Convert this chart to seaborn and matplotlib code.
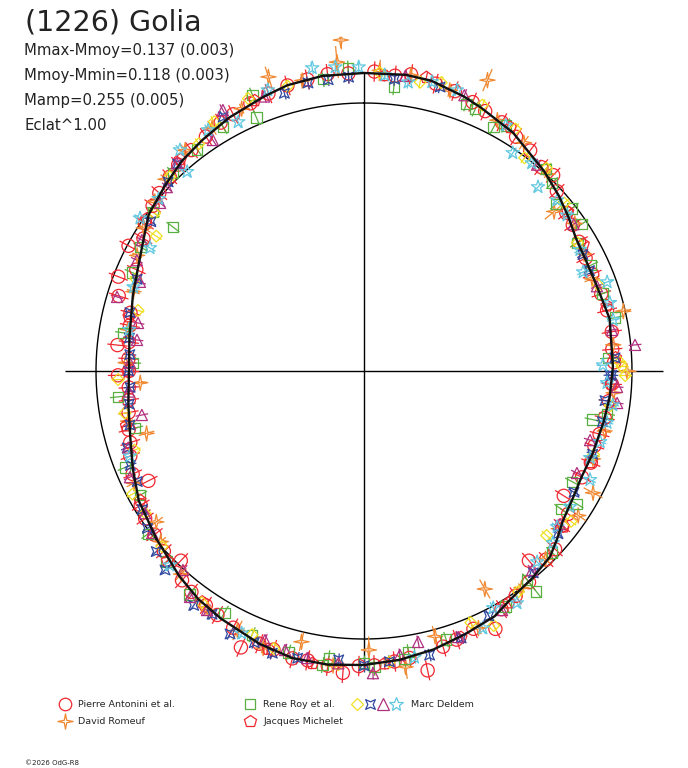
import numpy as np
import matplotlib
matplotlib.use("Agg")
import matplotlib.pyplot as plt
import seaborn as sns
from matplotlib.path import Path
from matplotlib.lines import Line2D
from matplotlib.legend_handler import HandlerTuple

# fitted light curve: phase angle (deg, clockwise from top) and relative flux
curve_phase = [0, 8, 13, 20, 24, 32, 42, 48, 53, 58, 64, 70, 78, 89, 96, 102, 110, 116, 122, 127,
               131, 135, 141, 147, 152, 159, 166, 173, 180, 187, 194, 201, 210, 216, 222, 231, 240, 247, 254, 262,
               270, 278, 288, 294, 301, 306, 313, 319, 325, 332, 340, 345, 352]
curve_flux = [1.112, 1.116, 1.112, 1.090, 1.075, 1.049, 1.004, 0.978, 0.955, 0.933, 0.925, 0.925, 0.937, 0.929, 0.922, 0.914, 0.907, 0.903, 0.914, 0.929,
              0.955, 0.981, 0.996, 1.011, 1.037, 1.052, 1.071, 1.086, 1.097, 1.104, 1.104, 1.090, 1.067, 1.052, 1.030, 0.996, 0.970, 0.937, 0.907, 0.888,
              0.877, 0.884, 0.907, 0.925, 0.959, 0.993, 1.015, 1.037, 1.052, 1.071, 1.090, 1.104, 1.112]

# Pierre Antonini et al.
ant_phase = [2, 6, 9, 14, 18, 22, 25, 29, 33, 37, 41, 44, 47, 52, 55, 59, 63, 67, 72, 76,
             81, 85, 88, 93, 97, 101, 105, 108, 112, 116, 122, 125, 128, 133, 136, 139, 142, 146, 150, 153,
             157, 161, 164, 168, 171, 174, 178, 181, 184, 187, 191, 194, 198, 201, 204, 207, 211, 214, 218, 221,
             224, 228, 232, 236, 239, 243, 246, 250, 253, 256, 260, 263, 266, 269, 270, 273, 276, 277, 281, 284,
             287, 291, 294, 298, 301, 304, 308, 311, 315, 318, 322, 326, 330, 333, 337, 341, 345, 349, 353, 357]
ant_flux = [1.118, 1.108, 1.121, 1.105, 1.098, 1.082, 1.070, 1.061, 1.042, 1.030, 1.008, 1.016, 0.984, 0.958, 0.951, 0.936, 0.928, 0.925, 0.931, 0.935,
            0.936, 0.930, 0.934, 0.926, 0.921, 0.915, 0.910, 0.904, 0.913, 0.905, 0.879, 0.930, 0.937, 0.975, 0.978, 0.938, 1.000, 1.012, 1.026, 1.080,
            1.045, 1.060, 1.070, 1.142, 1.084, 1.090, 1.099, 1.101, 1.129, 1.108, 1.100, 1.105, 1.093, 1.090, 1.129, 1.075, 1.062, 1.055, 1.046, 1.035,
            0.984, 1.005, 0.992, 0.985, 0.972, 0.903, 0.945, 0.928, 0.912, 0.905, 0.892, 0.884, 0.880, 0.918, 0.877, 0.880, 0.925, 0.884, 0.890, 0.898,
            0.957, 0.982, 0.930, 0.995, 0.960, 0.985, 1.001, 1.012, 1.025, 1.036, 1.046, 1.055, 1.070, 1.075, 1.085, 1.095, 1.103, 1.108, 1.116, 1.112]
ant_err = 0.038

# David Romeuf
rom_phase = [356, 355, 3, 9, 17, 23, 28, 35, 43, 50, 55, 62, 68, 77, 84, 90, 95, 104, 111, 118,
             124, 129, 136, 144, 151, 156, 165, 172, 179, 186, 193, 200, 206, 213, 222, 230, 234, 244, 254, 258,
             267, 272, 280, 289, 297, 303, 309, 314, 321, 328, 335, 342, 348]
rom_flux = [1.238, 1.157, 1.123, 1.118, 1.095, 1.179, 1.060, 1.040, 1.005, 0.926, 0.960, 0.930, 0.918, 0.993, 0.935, 0.981, 0.935, 0.925, 0.915, 0.968,
            0.964, 0.935, 0.975, 1.000, 0.930, 1.050, 1.025, 1.115, 1.041, 1.105, 1.037, 1.100, 1.077, 1.065, 1.020, 0.990, 0.958, 0.955, 0.844, 0.900,
            0.836, 0.890, 0.895, 0.910, 0.950, 0.980, 1.005, 1.030, 1.060, 1.070, 1.080, 1.154, 1.108]
rom_err = [0.035, 0.060, 0.040, 0.030, 0.025, 0.045, 0.020, 0.030, 0.020, 0.045, 0.025, 0.020, 0.030, 0.030, 0.020, 0.035, 0.020, 0.025, 0.020, 0.040,
           0.035, 0.020, 0.025, 0.020, 0.040, 0.025, 0.040, 0.045, 0.050, 0.020, 0.035, 0.020, 0.040, 0.020, 0.030, 0.025, 0.030, 0.030, 0.030, 0.020,
           0.025, 0.025, 0.020, 0.025, 0.020, 0.030, 0.020, 0.025, 0.030, 0.030, 0.020, 0.040, 0.025]

# Rene Roy et al.
roy_phase = [352, 357, 6, 21, 23, 28, 30, 42, 45, 49, 52, 56, 59, 65, 72, 78, 87, 100, 102, 118,
             122, 125, 134, 142, 142, 149, 163, 171, 172, 178, 180, 187, 188, 195, 203, 210, 218, 226, 233, 241,
             248, 256, 264, 272, 279, 293, 299, 307, 307, 316, 323, 330, 337, 338]
roy_flux = [1.100, 1.130, 1.065, 1.068, 1.062, 1.030, 1.058, 1.014, 0.992, 0.950, 0.986, 0.979, 0.929, 0.934, 0.936, 0.957, 0.912, 0.921, 0.872, 0.880,
            0.935, 0.897, 0.976, 0.989, 1.044, 1.026, 1.048, 1.062, 1.085, 1.106, 1.090, 1.080, 1.108, 1.087, 1.069, 1.042, 1.058, 1.024, 1.010, 0.955,
            0.961, 0.880, 0.923, 0.862, 0.910, 0.940, 0.953, 0.893, 0.986, 1.027, 1.034, 1.052, 1.027, 1.110]
roy_err = 0.03

# Jacques Michelet
mic_phase = [4, 12, 31, 52, 60, 75, 87, 93, 112, 128, 148, 160, 176, 190, 199, 215, 226, 240, 257, 270, 283, 305, 319, 338]
mic_flux = [1.105, 1.120, 1.060, 0.965, 0.945, 0.938, 0.940, 0.925, 0.912, 0.945, 1.020, 1.058, 1.095, 1.108, 1.098, 1.052,
            1.020, 0.965, 0.910, 0.880, 0.900, 0.990, 1.045, 1.088]
mic_err = 0.022

# Marc Deldem (four sessions)
yel_phase = [3, 11, 15, 24, 32, 37, 42, 59, 88, 89, 91, 98, 126, 132, 153, 157, 198, 203, 229, 237,
             242, 251, 260, 268, 285, 303, 307, 324, 329, 337, 50, 70, 110, 145, 175, 185, 215, 292, 315, 345]
yel_flux = [1.115, 1.098, 1.114, 1.086, 1.065, 0.996, 1.018, 0.929, 0.955, 0.963, 0.975, 0.928, 0.955, 0.917, 1.066, 1.020, 1.089, 1.069, 0.999, 0.974,
            0.978, 0.906, 0.906, 0.918, 0.873, 0.924, 0.978, 1.048, 1.085, 1.104, 0.975, 0.932, 0.912, 1.005, 1.090, 1.100, 1.055, 0.918, 1.025, 1.100]
blu_phase = [349, 353, 357, 344, 15, 6, 62, 66, 87, 91, 91, 97, 102, 140, 153, 167, 175, 185, 198, 202,
             207, 216, 225, 229, 234, 244, 252, 257, 266, 274, 284, 292, 305, 314, 331, 318,
             160, 180, 193, 212, 238, 248, 262, 270, 278, 120, 130, 110]
blu_flux = [1.095, 1.095, 1.098, 1.078, 1.097, 1.095, 0.925, 0.921, 0.938, 0.918, 0.925, 0.906, 0.910, 0.983, 1.026, 1.088, 1.089, 1.082, 1.107, 1.093,
            1.101, 1.081, 1.050, 1.027, 0.999, 0.941, 0.929, 0.896, 0.875, 0.876, 0.900, 0.913, 0.971, 1.016, 1.084, 1.038,
            1.060, 1.100, 1.100, 1.070, 0.975, 0.940, 0.885, 0.878, 0.884, 0.905, 0.945, 0.908]
pur_phase = [318, 313, 309.5, 300.5, 296, 291.7, 286.7, 282, 277.8, 272, 258.8, 245.6, 237, 232.6, 222.3, 217.6, 213.3, 200.2, 195.8, 191.2,
             178.3, 172.8, 168.7, 160.5, 139.8, 128, 115.6, 107, 97.2, 93.6, 84.5, 80.6, 326.8, 331.6,
             20, 40, 55, 70, 150, 185, 252, 265, 340, 8]
pur_flux = [1.044, 1.006, 0.986, 0.962, 0.943, 0.900, 0.962, 0.862, 0.855, 0.874, 0.845, 0.959, 0.974, 0.995, 1.004, 1.064, 1.067, 1.070, 1.082, 1.092,
            1.128, 1.068, 1.031, 1.053, 0.972, 0.928, 0.881, 0.882, 0.952, 0.946, 1.016, 0.938, 1.030, 1.107,
            1.095, 1.005, 0.955, 0.925, 1.030, 1.095, 0.925, 0.880, 1.090, 1.112]
cya_phase = [350.3, 354.6, 359, 4, 8.7, 13.2, 18.3, 30, 34.3, 38.9, 43.4, 48.5, 52.5, 60.7, 65.7, 69.9, 74.5, 78.4, 88.6, 92.8,
             97.8, 102, 106.7, 111, 115.7, 123.4, 128.9, 132.3, 137.8, 146.6, 151.4, 155.2, 304.3, 299.9, 318.4, 327.1, 333.2, 341.1, 320.2,
             170, 205, 225, 250, 280, 290, 310]
cya_flux = [1.147, 1.139, 1.134, 1.107, 1.090, 1.108, 1.104, 1.058, 0.985, 0.997, 0.945, 0.962, 0.955, 0.924, 0.897, 0.966, 0.952, 0.949, 0.892, 0.908,
            0.937, 0.927, 0.920, 0.904, 0.936, 0.921, 0.926, 0.953, 0.962, 1.037, 1.007, 1.057, 1.012, 0.921, 0.994, 1.071, 1.041, 1.108, 1.073,
            1.085, 1.080, 1.025, 0.930, 0.890, 0.915, 1.000]
del_err = 0.024

stats_lines = ["Mmax-Mmoy=0.137 (0.003)", "Mmoy-Mmin=0.118 (0.003)", "Mamp=0.255 (0.005)", "Eclat^1.00"]

RED = "#f02830"
ORANGE = "#f08830"
GREEN = "#58b040"
YELLOW = "#f0e020"
BLUE = "#3048a0"
PURPLE = "#b03080"
CYAN = "#60c8e0"

STAR4 = Path([(0, 1), (0.16, 0.16), (1, 0), (0.16, -0.16), (0, -1), (-0.16, -0.16), (-1, 0), (-0.16, 0.16), (0, 1)],
             [Path.MOVETO] + [Path.LINETO] * 7 + [Path.CLOSEPOLY])
XSQ = Path([(1, 1), (0, 0.55), (-1, 1), (-0.55, 0), (-1, -1), (0, -0.55), (1, -1), (0.55, 0), (1, 1)],
           [Path.MOVETO] + [Path.LINETO] * 7 + [Path.CLOSEPOLY])

sns.set_style("white")
plt.rcParams["font.family"] = ["DejaVu Sans"]

fig = plt.figure(figsize=(6.88, 7.68), dpi=100)
ax = fig.add_axes([29 / 688, 62 / 768, 670 / 688, 670 / 768], projection="polar")
ax.set_theta_zero_location("N")
ax.set_theta_direction(-1)
ax.grid(False)
ax.set_xticks([])
ax.set_yticks([])
ax.spines["polar"].set_visible(False)
ax.set_facecolor("white")

# reference circle and axes cross
ring = np.linspace(0, 2 * np.pi, 400)
ax.plot(ring, np.ones_like(ring), color="black", lw=1.0, zorder=1)
ax.vlines(np.deg2rad([0, 90, 180, 270]), 0, 1.115, color="black", lw=1.0, zorder=1)

series = [
    (ant_phase, ant_flux, ant_err, "o", RED, 9.5),
    (rom_phase, rom_flux, rom_err, STAR4, ORANGE, 11),
    (roy_phase, roy_flux, roy_err, "s", GREEN, 7.5),
    (mic_phase, mic_flux, mic_err, "p", RED, 9),
    (yel_phase, yel_flux, del_err, "D", YELLOW, 6),
    (blu_phase, blu_flux, del_err, XSQ, BLUE, 7),
    (pur_phase, pur_flux, del_err, "^", PURPLE, 8),
    (cya_phase, cya_flux, del_err, "*", CYAN, 10),
]
for ph, fl, err, mk, col, ms in series:
    th = np.deg2rad(ph)
    ax.errorbar(th, fl, yerr=err, fmt="none", ecolor=col, elinewidth=0.9, capsize=0, zorder=2)
    sns.scatterplot(x=th, y=fl, ax=ax, marker=mk, s=ms ** 2, facecolors="none",
                    edgecolor=col, linewidth=0.9, zorder=3)

cth = np.deg2rad(np.append(curve_phase, curve_phase[0]))
cfl = np.append(curve_flux, curve_flux[0])
ax.plot(cth, cfl, color="#111111", lw=1.7, zorder=4)
ax.set_rlim(0, 1.25)
ax.set_xlabel("")
ax.set_ylabel("")

fig.text(25 / 688, 1 - 22 / 768, "(1226) Golia", fontsize=20.5, va="center", ha="left", color="#222222")
for i, s in enumerate(stats_lines):
    fig.text(24 / 688, 1 - (50 + 25.3 * i) / 768, s, fontsize=10.7, va="center", ha="left", color="#222222")
fig.text(25 / 688, 1 - 763 / 768, "\u00a92026 OdG-R8", fontsize=5, va="center", ha="left", color="#222222")


def handle(marker, color, ms):
    return Line2D([], [], ls="none", marker=marker, mfc="none", mec=color, mew=0.9, ms=ms)


leg_kw = dict(loc="upper left", frameon=False, fontsize=6.8, labelspacing=0.85,
              borderpad=0, borderaxespad=0, handletextpad=0.9)
top = 1 - 700 / 768
fig.legend([handle("o", RED, 9), handle(STAR4, ORANGE, 11)],
           ["Pierre Antonini et al.", "David Romeuf"],
           bbox_to_anchor=(60.3 / 688, top), handlelength=1.0, **leg_kw)
fig.legend([handle("s", GREEN, 7.5), handle("p", RED, 9)],
           ["Rene Roy et al.", "Jacques Michelet"],
           bbox_to_anchor=(245.3 / 688, top), handlelength=1.0, **leg_kw)
fig.legend([(handle("D", YELLOW, 6), handle(XSQ, BLUE, 7), handle("^", PURPLE, 8), handle("*", CYAN, 10))],
           ["Marc Deldem"],
           bbox_to_anchor=(350.5 / 688, top), handlelength=5.5,
           handler_map={tuple: HandlerTuple(ndivide=None, pad=0)}, **leg_kw)

fig.savefig("out.png", dpi=100)
